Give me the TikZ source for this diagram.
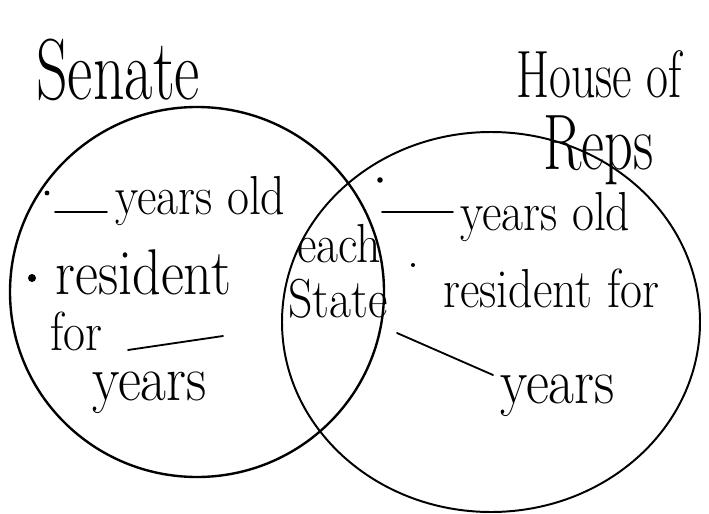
\documentclass[tikz,border=0pt]{standalone}
\usepackage{tikz}

\begin{document}
\begin{tikzpicture}[
  hand/.style={inner sep=0pt,anchor=base west,yscale=1.15,font=\fontsize{34}{40}\selectfont},
  bighand/.style={hand,font=\fontsize{40}{46}\selectfont},
  title/.style={inner sep=0pt,anchor=base west,yscale=1.4,font=\fontsize{44}{50}\selectfont},
  blank/.style={line width=1.3pt,line cap=round},
  ring/.style={line width=1.4pt}]
\useasboundingbox (0.000,0.000) rectangle (17.725,-12.850);
\draw[ring,line width=1.7pt] (4.925,-7.300) ellipse (4.675 and 4.625);
\draw[ring] (12.275,-8.050) ellipse (5.225 and 4.750);
\node[title] (senate) at (0.900,-2.500) {Senate};
\node[title,font=\fontsize{34}{40}\selectfont] (house) at (12.900,-2.450) {House of};
\node[title,font=\fontsize{40}{46}\selectfont] (reps) at (13.575,-4.250) {Reps};
\fill (1.175,-4.825) circle (0.060);
\draw[blank] (1.375,-5.300) -- (2.675,-5.300);
\node[hand] (sage) at (2.875,-5.350) {years old};
\fill (0.800,-6.950) circle (0.100);
\node[bighand] (sres) at (1.375,-7.350) {resident};
\node[hand] (sfor) at (1.250,-8.750) {for};
\draw[blank] (3.200,-8.750) -- (5.575,-8.400);
\node[bighand] (syears) at (2.300,-10.000) {years};
\node[hand] (each) at (7.425,-6.550) {each};
\node[hand] (state) at (7.200,-7.925) {State};
\fill (9.500,-4.500) circle (0.070);
\draw[blank] (9.550,-5.300) -- (11.325,-5.300);
\node[hand] (hage) at (11.500,-5.750) {years old};
\fill (10.325,-6.625) circle (0.050);
\node[hand] (hres) at (11.075,-7.675) {resident for};
\draw[blank] (9.925,-8.325) -- (12.325,-9.375);
\node[bighand] (hyears) at (12.500,-10.075) {years};
\end{tikzpicture}
\end{document}
